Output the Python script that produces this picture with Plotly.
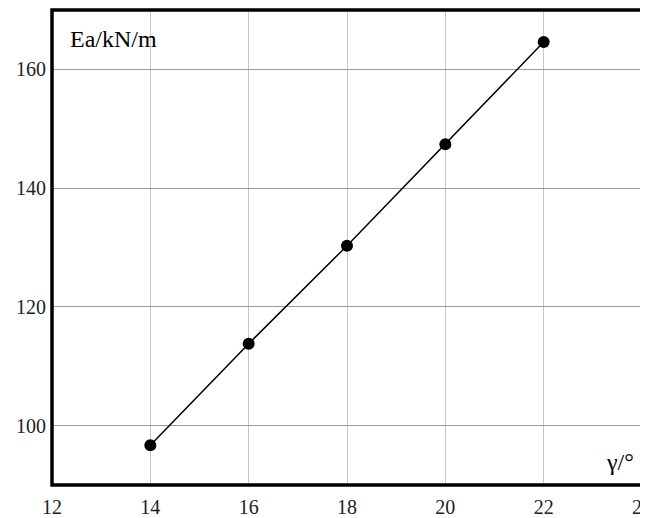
import plotly.graph_objects as go

gamma = [14, 16, 18, 20, 22]
ea = [96.7, 113.8, 130.3, 147.4, 164.6]
x_ticks = [12, 14, 16, 18, 20, 22, 24]
y_ticks = [100, 120, 140, 160]

fig = go.Figure()
fig.add_trace(go.Scatter(
    x=gamma, y=ea, mode="lines+markers",
    line=dict(color="black", width=1.5),
    marker=dict(color="black", size=12),
    showlegend=False,
))

font = "Liberation Serif"
# page body has an 8px default margin, so margins are set to compensate
fig.update_layout(
    width=648, height=518,
    margin=dict(l=43.5, r=13.5, t=2, b=41),
    paper_bgcolor="white", plot_bgcolor="white",
    font=dict(family=font, size=20, color="#222"),
    xaxis=dict(range=[12, 24], tickvals=x_ticks, showgrid=True, gridcolor="#c8c8c8", gridwidth=1,
               showline=False, ticks="", ticklen=0, zeroline=False, ticklabelstandoff=8,
               tickfont=dict(family=font, size=20, color="#222")),
    yaxis=dict(range=[90, 170], tickvals=y_ticks, showgrid=True, gridcolor="#999999", gridwidth=1,
               showline=False, ticks="", ticklen=0, zeroline=False, ticklabelstandoff=5,
               tickfont=dict(family=font, size=20, color="#222")),
    shapes=[dict(type="rect", xref="paper", yref="paper", x0=0, x1=1, y0=0, y1=1,
                 line=dict(color="black", width=3.5), layer="above")],
    annotations=[
        dict(x=12.33, y=165.1, xref="x", yref="y", text="Ea/kN/m", showarrow=False,
             xanchor="left", yanchor="middle", font=dict(family=font, size=24, color="black")),
        dict(x=23.55, y=93.9, xref="x", yref="y", text="γ/°", showarrow=False,
             xanchor="center", yanchor="middle", font=dict(family=font, size=24, color="black")),
    ],
)
fig.write_html("out.html")
